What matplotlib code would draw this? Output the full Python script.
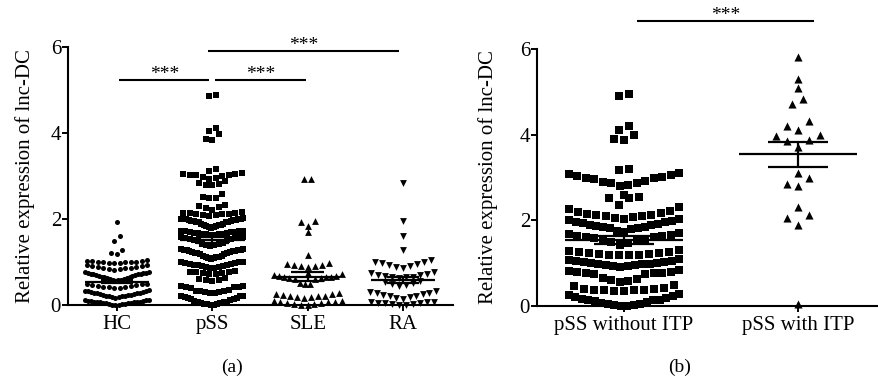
import numpy as np
import matplotlib
matplotlib.use('Agg')
import matplotlib.pyplot as plt

plt.rcParams['font.family'] = ['Liberation Serif', 'DejaVu Serif']

# relative expression of lnc-DC
hc = [0.00, 0.01, 0.01, 0.02, 0.02, 0.03, 0.04, 0.04, 0.05, 0.05, 0.06, 0.06, 0.07, 0.07, 0.08,
      0.08, 0.09, 0.10, 0.10, 0.11, 0.11, 0.12,
      0.17, 0.18, 0.19, 0.20, 0.20, 0.21, 0.22, 0.23, 0.24, 0.24, 0.25, 0.26, 0.27, 0.28,
      0.28, 0.29, 0.30, 0.31, 0.32, 0.32, 0.33, 0.34,
      0.39, 0.40, 0.41, 0.42, 0.43, 0.44, 0.45, 0.46, 0.47, 0.48, 0.49, 0.50,
      0.56, 0.57, 0.58, 0.59, 0.60, 0.61, 0.62, 0.63, 0.64, 0.65, 0.66, 0.67, 0.68, 0.69, 0.70,
      0.71, 0.72, 0.72, 0.73, 0.74, 0.75, 0.75, 0.76, 0.77,
      0.82, 0.83, 0.84, 0.85, 0.86, 0.87, 0.88, 0.89, 0.90, 0.91, 0.92, 0.93,
      0.97, 0.98, 0.98, 0.99, 1.00, 1.00, 1.01, 1.01, 1.02, 1.02, 1.03, 1.04,
      1.18, 1.20, 1.29, 1.48, 1.60, 1.93]
pss = [0.00, 0.01, 0.02, 0.03, 0.03, 0.04, 0.05, 0.06, 0.07, 0.08,
       0.10, 0.12, 0.13, 0.15, 0.16, 0.17, 0.18, 0.20, 0.21, 0.22,
       0.28, 0.29, 0.30, 0.31, 0.32, 0.32, 0.33, 0.34,
       0.40, 0.41, 0.42, 0.43, 0.44, 0.45,
       0.55, 0.57, 0.58, 0.60, 0.62,
       0.72, 0.73, 0.74, 0.75, 0.76, 0.77, 0.77, 0.78,
       0.86, 0.87, 0.88, 0.89, 0.90, 0.91, 0.92, 0.93, 0.94, 0.95, 0.96, 0.97, 0.98, 0.99, 1.00, 1.00,
       1.08, 1.09, 1.10, 1.11, 1.12, 1.12, 1.13, 1.14,
       1.18, 1.19, 1.20, 1.21, 1.22, 1.23, 1.24, 1.25, 1.25, 1.26, 1.27, 1.28, 1.28, 1.29, 1.30, 1.30,
       1.38, 1.39, 1.40, 1.41, 1.42, 1.44,
       1.50, 1.51, 1.52, 1.53, 1.54, 1.55, 1.56, 1.57, 1.58, 1.58,
       1.62, 1.63, 1.64, 1.65, 1.66, 1.66, 1.67, 1.68, 1.68, 1.69, 1.70, 1.70, 1.71, 1.71, 1.72, 1.72,
       1.80, 1.81, 1.82, 1.83, 1.84, 1.85, 1.86, 1.87, 1.88, 1.88,
       1.92, 1.93, 1.94, 1.94, 1.95, 1.96, 1.96, 1.97, 1.98, 1.98, 1.99, 2.00, 2.00, 2.01, 2.01, 2.02,
       2.08, 2.09, 2.10, 2.11, 2.12, 2.12, 2.13, 2.14, 2.15, 2.16,
       2.22, 2.25, 2.28, 2.30, 2.32,
       2.48, 2.50, 2.51, 2.58,
       2.78, 2.80, 2.82, 2.84, 2.88, 2.92,
       2.96, 2.97, 3.00, 3.02, 3.02, 3.03, 3.04, 3.05, 3.06,
       3.12, 3.16, 3.84, 3.85, 3.97, 4.05, 4.12, 4.85, 4.88]
sle = [0.00, 0.01, 0.02, 0.03, 0.04, 0.05, 0.06, 0.07, 0.08, 0.09, 0.10,
       0.17, 0.18, 0.19, 0.20, 0.21, 0.22, 0.24, 0.25, 0.26, 0.28,
       0.48, 0.50, 0.52,
       0.60, 0.61, 0.62, 0.63, 0.64, 0.65, 0.66, 0.67, 0.68, 0.70, 0.72, 0.74,
       0.88, 0.90, 0.91, 0.93, 0.94, 0.96, 0.98,
       1.16, 1.69, 1.84, 1.93, 1.95, 2.93, 2.93]
ra = [0.00, 0.01, 0.02, 0.03, 0.04, 0.04, 0.05, 0.06, 0.07, 0.08,
      0.14, 0.16, 0.18, 0.20, 0.22, 0.24, 0.25, 0.27, 0.29, 0.30, 0.32,
      0.45, 0.47, 0.50, 0.52, 0.54, 0.56,
      0.62, 0.64, 0.65, 0.66, 0.68, 0.69, 0.70, 0.72, 0.74, 0.76,
      0.86, 0.89, 0.91, 0.93, 0.95, 0.97, 0.99, 1.01, 1.04,
      1.29, 1.60, 1.95, 2.84]
pss_no_itp = [0.00, 0.01, 0.02, 0.03, 0.04, 0.05, 0.07, 0.09, 0.11, 0.13, 0.14, 0.15, 0.17, 0.19,
              0.21, 0.23, 0.25, 0.27,
              0.35, 0.36, 0.37, 0.37, 0.38, 0.38, 0.39, 0.40, 0.42, 0.46, 0.48,
              0.56, 0.59, 0.61, 0.63, 0.66,
              0.74, 0.75, 0.76, 0.77, 0.78, 0.79, 0.80, 0.82, 0.84,
              0.92, 0.93, 0.94, 0.95, 0.96, 0.97, 0.98, 0.99, 1.00, 1.01, 1.02, 1.03, 1.05, 1.06,
              1.08, 1.10,
              1.18, 1.19, 1.20, 1.20, 1.21, 1.22, 1.23, 1.24, 1.25, 1.26, 1.28, 1.30,
              1.42,
              1.48, 1.50, 1.52, 1.54, 1.56, 1.58, 1.60, 1.62, 1.63, 1.64, 1.66, 1.68, 1.70, 1.73, 1.76,
              1.80, 1.81, 1.82, 1.84, 1.85, 1.87, 1.88, 1.90, 1.92, 1.93, 1.95, 1.97, 1.98, 2.00,
              2.02, 2.04, 2.06, 2.08,
              2.11, 2.11, 2.12, 2.13, 2.15, 2.17, 2.19, 2.22, 2.27, 2.32, 2.36,
              2.52, 2.53, 2.54, 2.60,
              2.80, 2.82, 2.86, 2.88, 2.90, 2.92, 2.96, 2.98, 3.00, 3.02, 3.04, 3.06, 3.08, 3.10,
              3.18, 3.20, 3.88, 3.90, 4.00, 4.10, 4.20, 4.90, 4.95]
pss_itp = [5.82, 5.30, 5.09, 4.84, 4.71, 4.31, 4.21, 4.10, 3.97, 4.00, 3.86,
           3.87, 3.72, 3.10, 2.98, 2.85, 2.80, 2.31, 2.13, 2.05, 1.88, 0.05]

labels_a = ['HC', 'pSS', 'SLE', 'RA']
labels_b = ['pSS without ITP', 'pSS with ITP']

W, H = 879, 383
fig = plt.figure(figsize=(W / 100, H / 100), dpi=100)
ax1 = fig.add_axes([68 / W, 1 - 305 / H, (453 - 68) / W, (305 - 47) / H])
ax2 = fig.add_axes([537 / W, 1 - 306 / H, (879 - 537) / W, (306 - 49) / H])
ax1.set_xlim(-0.514, 3.525)
ax2.set_xlim(-0.5, 1.466)
ppu1 = 385 / (3.525 + 0.514)
ppu2 = 342 / (1.466 + 0.5)


def row_offsets(vals, h, gap, mh, pitch, half_w):
    # prism style scatter: close values share a row, lowest ones in the middle
    v = np.sort(np.asarray(vals, float))
    offs, ys = [], []
    i = 0
    while i < len(v):
        j = i + 1
        while j < len(v) and v[j] - v[i] < h and (v[j] - v[j - 1] <= gap or v[j] - v[i] < mh):
            j += 1
        n = j - i
        step = pitch if n < 2 else min(pitch, 2 * half_w / (n - 1))
        for k in range(n):
            sign = -1 if k % 2 else 1
            if n % 2:
                offs.append((k + 1) // 2 * sign * step)
            else:
                offs.append((k // 2 + 0.5) * -sign * step)
        ys += list(v[i:j])
        i = j
    return np.array(offs), np.array(ys)


def dot_plot(ax, pos, vals, marker, s, ppu, h, gap, mh, pitch, half_w):
    off, y = row_offsets(vals, h, gap, mh, pitch, half_w)
    ax.scatter(pos + off / ppu, y, marker=marker, s=s, c='black',
               linewidths=0, clip_on=False, zorder=3)
    m = np.mean(vals)
    se = np.std(vals, ddof=1) / np.sqrt(len(vals))
    kw = dict(color='black', lw=1.6, zorder=4, clip_on=False, solid_capstyle='butt')
    ax.plot([pos - 0.34, pos + 0.34], [m, m], **kw)
    ax.plot([pos - 0.17, pos + 0.17], [m + se, m + se], **kw)
    ax.plot([pos - 0.17, pos + 0.17], [m - se, m - se], **kw)
    ax.plot([pos, pos], [m - se, m + se], **kw)


def sig(ax, x0, x1, y):
    ax.plot([x0, x1], [y, y], color='black', lw=1.5, clip_on=False, solid_capstyle='butt')
    ax.text((x0 + x1) / 2, y + 0.02, '***', ha='center', va='baseline', fontsize=14)


dot_plot(ax1, 0, hc, 'o', 13, ppu1, 0.25, 0.035, 0.13, 5.5, 32)
dot_plot(ax1, 1, pss, 's', 17, ppu1, 0.25, 0.035, 0.14, 6.5, 31)
dot_plot(ax1, 2, sle, '^', 24, ppu1, 0.25, 0.035, 0.14, 7, 34)
dot_plot(ax1, 3, ra, 'v', 24, ppu1, 0.25, 0.035, 0.14, 7, 33)
dot_plot(ax2, 0, pss_no_itp, 's', 28, ppu2, 0.31, 0.05, 0.18, 10, 55)
dot_plot(ax2, 1, pss_itp, '^', 34, ppu2, 0.29, 0.15, 0.19, 11, 55)

sig(ax1, 0.02, 0.97, 5.23)
sig(ax1, 1.03, 1.98, 5.23)
sig(ax1, 0.95, 2.96, 5.91)
sig(ax2, 0.075, 1.09, 6.66)

for ax, labels in [(ax1, labels_a), (ax2, labels_b)]:
    ax.set_ylim(0, 6)
    ax.set_yticks([0, 2, 4, 6])
    ax.set_xticks(range(len(labels)))
    ax.set_xticklabels(labels)
    for side in ['top', 'right']:
        ax.spines[side].set_visible(False)
    for side in ['left', 'bottom']:
        ax.spines[side].set_linewidth(1.5)
    ax.tick_params(direction='out', length=4, width=1.4, labelsize=15, pad=1)
    ax.tick_params(axis='x', pad=3)
    ax.set_ylabel('Relative expression of lnc-DC', fontsize=15)

ax1.yaxis.set_label_coords(-0.086, 0.5)
ax2.yaxis.set_label_coords(-0.114, 0.5)

fig.text(232 / W, 1 - 367 / H, '(a)', ha='center', va='center', fontsize=14)
fig.text(680 / W, 1 - 367 / H, '(b)', ha='center', va='center', fontsize=14)

fig.savefig('out.png', dpi=100)
